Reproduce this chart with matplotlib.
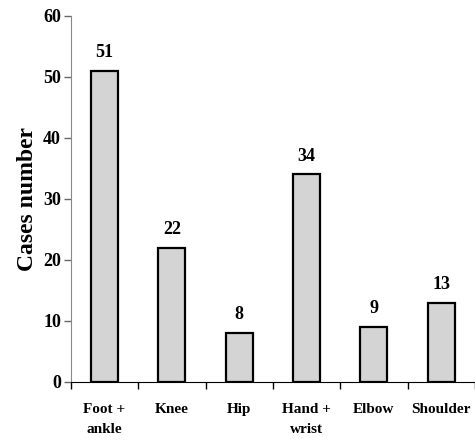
import matplotlib
matplotlib.use("Agg")
import matplotlib.pyplot as plt
import numpy as np

# data
categories = ["Foot +\nankle", "Knee", "Hip", "Hand +\nwrist", "Elbow", "Shoulder"]
cases = [51, 22, 8, 34, 9, 13]
y_ticks = [0, 10, 20, 30, 40, 50, 60]

plt.rcParams['font.family'] = ['Liberation Serif', 'DejaVu Serif']
plt.rcParams['font.weight'] = 'bold'

fig = plt.figure(figsize=(4.75, 4.41), dpi=100)
ax = fig.add_axes([0.149, 0.134, 0.851, 0.830])

x = np.arange(len(categories))
ax.bar(x, cases, width=0.4, color='#d4d4d4', edgecolor='black', linewidth=1.6)

for xi, v in zip(x, cases):
    ax.annotate(str(v), (xi, v), xytext=(0, 7), textcoords='offset points',
                ha='center', va='bottom', fontsize=13, fontweight='bold')

ax.set_xlim(-0.5, len(categories) - 0.5)
ax.set_ylim(0, 60)
ax.set_yticks(y_ticks)
ax.tick_params(axis='y', labelsize=13, length=5, width=1, pad=2,
               direction='out', color='#666666')

# boundary ticks without labels, names on minor ticks at bar centres
ax.set_xticks(np.arange(-0.5, len(categories), 1.0))
ax.set_xticklabels([])
ax.set_xticks(x, minor=True)
ax.set_xticklabels(categories, minor=True, fontsize=11, fontweight='bold',
                   linespacing=1.75)
ax.tick_params(axis='x', which='major', length=5, width=1, direction='out')
ax.tick_params(axis='x', which='minor', length=0, pad=15)

ax.spines['top'].set_visible(False)
ax.spines['right'].set_visible(False)
ax.spines['left'].set_color('#888888')
ax.spines['bottom'].set_color('black')

ax.set_ylabel("Cases number", fontsize=17, fontweight='bold', labelpad=4)

fig.savefig("out.png", dpi=100)
